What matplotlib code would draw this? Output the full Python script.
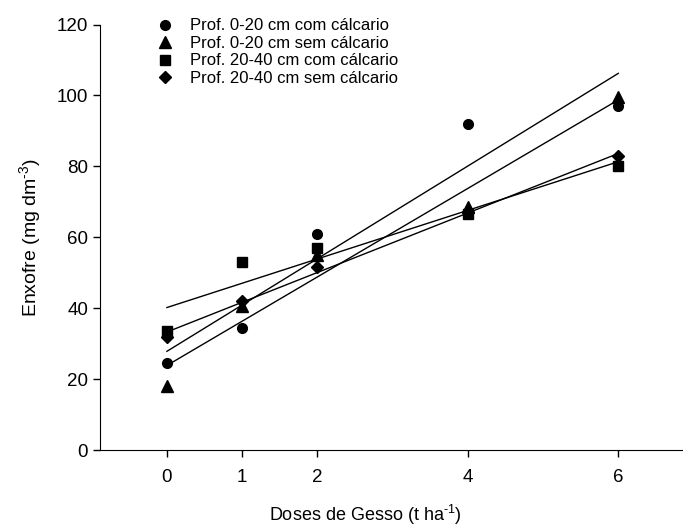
import numpy as np
import matplotlib.pyplot as plt

plt.rcParams['font.family'] = ['Liberation Sans', 'DejaVu Sans']
plt.rcParams['mathtext.fontset'] = 'custom'
plt.rcParams['mathtext.rm'] = 'Liberation Sans'
plt.rcParams['mathtext.it'] = 'Liberation Sans'

doses = [0, 1, 2, 4, 6]
labels = ['Prof. 0-20 cm com cálcario', 'Prof. 0-20 cm sem cálcario',
          'Prof. 20-40 cm com cálcario', 'Prof. 20-40 cm sem cálcario']
s_0_20_com = [24.5, 34.5, 61, 92, 97]
s_0_20_sem = [18, 40.5, 55, 68.5, 99.5]
s_20_40_com = [33.5, 53, 57, 66.5, 80]
s_20_40_sem = [32, 42, 51.5, 67, 83]
series = [s_0_20_com, s_0_20_sem, s_20_40_com, s_20_40_sem]
markers = ['o', '^', 's', 'D']
sizes = [7, 8, 7, 6.5]

fig = plt.figure(figsize=(6.83, 5.27), dpi=100)
ax = fig.add_axes([0.1464, 0.1461, 0.8536, 0.8074])

x = np.array(doses)
for y, m, ms, lab in zip(series, markers, sizes, labels):
    ax.plot(x, y, linestyle='none', marker=m, markersize=ms, color='black', label=lab)
    # reta de regressão
    b, a = np.polyfit(x, y, 1)
    ax.plot([0, 6], [a, a + b * 6], color='black', lw=1)

ax.set_xlim(-0.89, 6.86)
ax.set_ylim(0, 120)
ax.set_xticks(doses)
ax.set_yticks(range(0, 121, 20))
ax.spines['top'].set_visible(False)
ax.spines['right'].set_visible(False)
ax.tick_params(labelsize=13.5, length=5, width=1, direction='out')
ax.tick_params(axis='x', pad=9)
ax.set_xlabel(r'Doses de Gesso (t ha$^{\text{-1}}$)', fontsize=13, labelpad=12)
ax.xaxis.set_label_coords(0.456, -0.125)
ax.set_ylabel(r'Enxofre (mg dm$^{\text{-3}}$)', fontsize=14, labelpad=10)

ax.legend(loc='upper left', bbox_to_anchor=(0.079, 1.03), frameon=False,
          fontsize=12, handletextpad=0.75, labelspacing=0.15, borderaxespad=0,
          handlelength=1.5)

fig.savefig('out.png', dpi=100)
